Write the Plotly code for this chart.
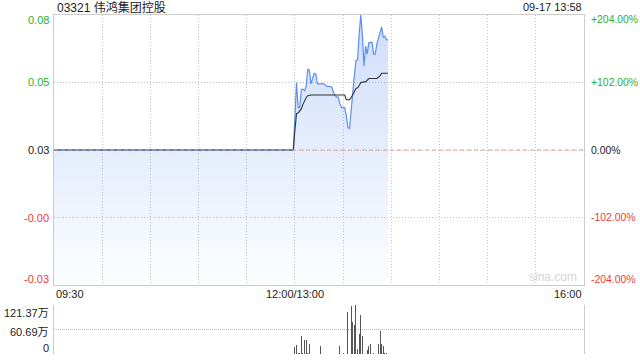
import plotly.graph_objects as go

# ---------------- data ----------------
title_text = "03321 伟鸿集团控股"
stamp_text = "09-17 13:58"

# morning session: flat at previous close (percent change)
morning_times = ["09:30", "11:59"]
morning_pct = [0, 0]
morning_avg = [0, 0]

# afternoon session, one value per minute from 13:00 to 13:58 (percent change)
pm_times = ["13:%02d" % m for m in range(59)]
pm_pct = [50, 102, 64, 64, 91, 92, 90, 96, 122, 121,
          100, 110, 116, 115, 100, 100, 100, 100, 100, 98,
          96, 96, 95, 95, 87, 82, 80, 80, 70, 64,
          64, 64, 52, 34, 32, 63, 95, 112, 135, 136,
          175, 204, 175, 127, 157, 145, 162, 162, 163, 145,
          145, 160, 169, 177, 186, 170, 172, 167, 166]
pm_avg = [30, 55, 56, 60, 62, 69, 75, 79, 82, 83,
          83, 83, 83, 83, 83, 83, 83, 83, 83, 83,
          83, 83, 83, 83, 83, 83, 83, 83, 83, 83,
          83, 83, 76, 76, 76, 79, 84, 90, 93, 94,
          97, 102, 103, 103, 103, 105, 108, 108, 108, 108,
          108, 108, 110, 112, 116, 116, 116, 116, 116]

# volume (万股)
vol_times = ["13:00", "13:01", "13:02", "13:03", "13:04", "13:05", "13:06", "13:07", "13:08", "13:09",
             "13:10", "13:12", "13:16", "13:20", "13:25", "13:28", "13:30", "13:31", "13:33", "13:35",
             "13:36", "13:37", "13:38", "13:39", "13:40", "13:41", "13:42", "13:44", "13:45", "13:46",
             "13:47", "13:49", "13:50", "13:52", "13:53", "13:54", "13:55", "13:56", "13:57", "13:58"]
vol_vals = [17, 23, 1.5, 2, 45, 1.5, 35, 35, 1.5, 26,
            1, 1, 21, 1, 1, 19, 1.5, 1, 105, 120,
            80, 73, 121.37, 13, 50, 97, 44, 1, 11, 19,
            25, 1.5, 1, 25, 58, 25, 19, 2, 2, 1]

left_tick_pct = [204, 102, 0, -102, -204]
left_tick_text = ["0.08", "0.05", "0.03", "-0.00", "-0.03"]
right_tick_text = ["+204.00%", "+102.00%", "0.00%", "-102.00%", "-204.00%"]
tick_colors = ["#2fae2f", "#2fae2f", "#222222", "#f03a3a", "#f03a3a"]

vol_tick_vals = [121.37, 60.69, 0]
vol_tick_text = ["121.37万", "60.69万", "0"]

x_tick_labels = ["09:30", "12:00/13:00", "16:00"]
x_tick_times = ["09:30", "13:00", "16:00"]


# trading-minute scale: 09:30 -> 0, 12:00/13:00 -> 150, 16:00 -> 330
def tpos(t):
    h, m = map(int, t.split(":"))
    mins = h * 60 + m
    if mins <= 12 * 60:
        return mins - (9 * 60 + 30)
    return 150 + mins - 13 * 60


W, H = 640, 360
PL, PR = 54, 584
MT, MB = 15, 285
VT, VB = 305, 354

FONT = "Liberation Sans, Arial, Noto Sans CJK SC, sans-serif"

x_price = [tpos(t) for t in morning_times + pm_times]
y_price = morning_pct + pm_pct
y_avg = morning_avg + pm_avg

fig = go.Figure()

# baseline for the fill (bottom of the chart)
fig.add_trace(go.Scatter(x=[x_price[0], x_price[-1]], y=[-204, -204], mode="lines",
                         line=dict(width=0, color="rgba(0,0,0,0)"), hoverinfo="skip",
                         xaxis="x", yaxis="y"))
fig.add_trace(go.Scatter(x=x_price, y=y_price, mode="lines", fill="tonexty",
                         fillgradient=dict(type="vertical",
                                           colorscale=[[0, "rgba(91,143,239,0.015)"],
                                                       [1, "rgba(91,143,239,0.30)"]],
                                           start=-204, stop=204),
                         line=dict(color="#5b8fef", width=1.2), hoverinfo="skip",
                         xaxis="x", yaxis="y"))
fig.add_trace(go.Scatter(x=x_price, y=y_avg, mode="lines",
                         line=dict(color="#333333", width=1.1), hoverinfo="skip",
                         xaxis="x", yaxis="y"))
# redraw the morning price line on top of the avg line
fig.add_trace(go.Scatter(x=[tpos(t) for t in morning_times], y=morning_pct, mode="lines",
                         line=dict(color="#4f80dc", width=1.6), hoverinfo="skip",
                         xaxis="x", yaxis="y"))

fig.add_trace(go.Bar(x=[tpos(t) for t in vol_times], y=vol_vals, width=0.62,
                     marker=dict(color="#555555", line=dict(width=0)),
                     hoverinfo="skip", xaxis="x2", yaxis="y2"))

xd = [PL / W, PR / W]
grid_x = list(range(0, 331, 30))

fig.update_layout(
    width=W, height=H,
    margin=dict(l=0, r=0, t=0, b=0),
    paper_bgcolor="white", plot_bgcolor="white",
    showlegend=False, bargap=0,
    font=dict(family=FONT, size=11, color="#222"),
    xaxis=dict(domain=xd, range=[0, 330], tickvals=grid_x, showticklabels=False,
               showgrid=True, gridcolor="#c4c4c4", griddash="1px,2px", gridwidth=1,
               zeroline=False, showline=True, linecolor="#cccccc", linewidth=1, mirror=True,
               ticks="", fixedrange=True),
    yaxis=dict(domain=[1 - MB / H, 1 - MT / H], range=[-204, 204], tickvals=[-102, 0, 102],
               showticklabels=False, showgrid=True, gridcolor="#c4c4c4", griddash="1px,2px",
               zeroline=False, showline=True, linecolor="#cccccc", linewidth=1, mirror=True,
               ticks=""),
    xaxis2=dict(domain=xd, range=[0, 330], anchor="y2", showticklabels=False,
                showgrid=False, zeroline=False, showline=False, ticks=""),
    yaxis2=dict(domain=[1 - VB / H, 1 - VT / H], range=[0, 121.37], anchor="x2",
                tickvals=vol_tick_vals, showticklabels=False, showgrid=True,
                gridcolor="#b4b4b4", griddash="1px,1px", zeroline=False, showline=True,
                linecolor="#cccccc", linewidth=1, mirror=True, ticks=""),
)

# dashed previous-close line
fig.add_shape(type="line", xref="x", yref="y", x0=0, x1=330, y0=0, y1=0,
              line=dict(color="#f0a274", width=1, dash="4px,3px"), layer="above")

ann = []
ann.append(dict(text=title_text, xref="paper", yref="paper", x=55 / W, y=1 - 7 / H,
                xanchor="left", yanchor="middle", showarrow=False,
                font=dict(size=12, color="#222", family=FONT)))
ann.append(dict(text=stamp_text, xref="paper", yref="paper", x=584 / W, y=1 - 7 / H,
                xanchor="right", yanchor="middle", showarrow=False,
                font=dict(size=11, color="#222", family=FONT)))
shifts = [-5, 0, 0, 0, 6]
for p, lt, rt, c, s in zip(left_tick_pct, left_tick_text, right_tick_text, tick_colors, shifts):
    ann.append(dict(text=lt, xref="paper", yref="y", x=51 / W, y=p, yshift=s,
                    xanchor="right", yanchor="middle", showarrow=False,
                    font=dict(size=11, color=c, family=FONT)))
    ann.append(dict(text=rt, xref="paper", yref="y", x=589 / W, y=p, yshift=s,
                    xanchor="left", yanchor="middle", showarrow=False,
                    font=dict(size=10.4, color=c, family=FONT)))
for v, t, s in zip(vol_tick_vals, vol_tick_text, [-8, -2, 6]):
    ann.append(dict(text=t, xref="paper", yref="y2", x=51 / W, y=v, yshift=s,
                    xanchor="right", yanchor="middle", showarrow=False,
                    font=dict(size=11, color="#222", family=FONT)))
for lab, tt, xa in zip(x_tick_labels, x_tick_times, ["left", "center", "right"]):
    ann.append(dict(text=lab, xref="x", yref="paper", x=tpos(tt),
                    y=1 - 294 / H, xanchor=xa, yanchor="middle", showarrow=False,
                    font=dict(size=11, color="#222", family=FONT)))
ann.append(dict(text="sina.com", xref="paper", yref="paper", x=579 / W, y=1 - 277 / H,
                xanchor="right", yanchor="middle", showarrow=False,
                font=dict(size=12, color="#d4d4d4", family=FONT)))
fig.update_layout(annotations=ann)

fig.write_html("out.html", config={"displayModeBar": False, "staticPlot": True})
